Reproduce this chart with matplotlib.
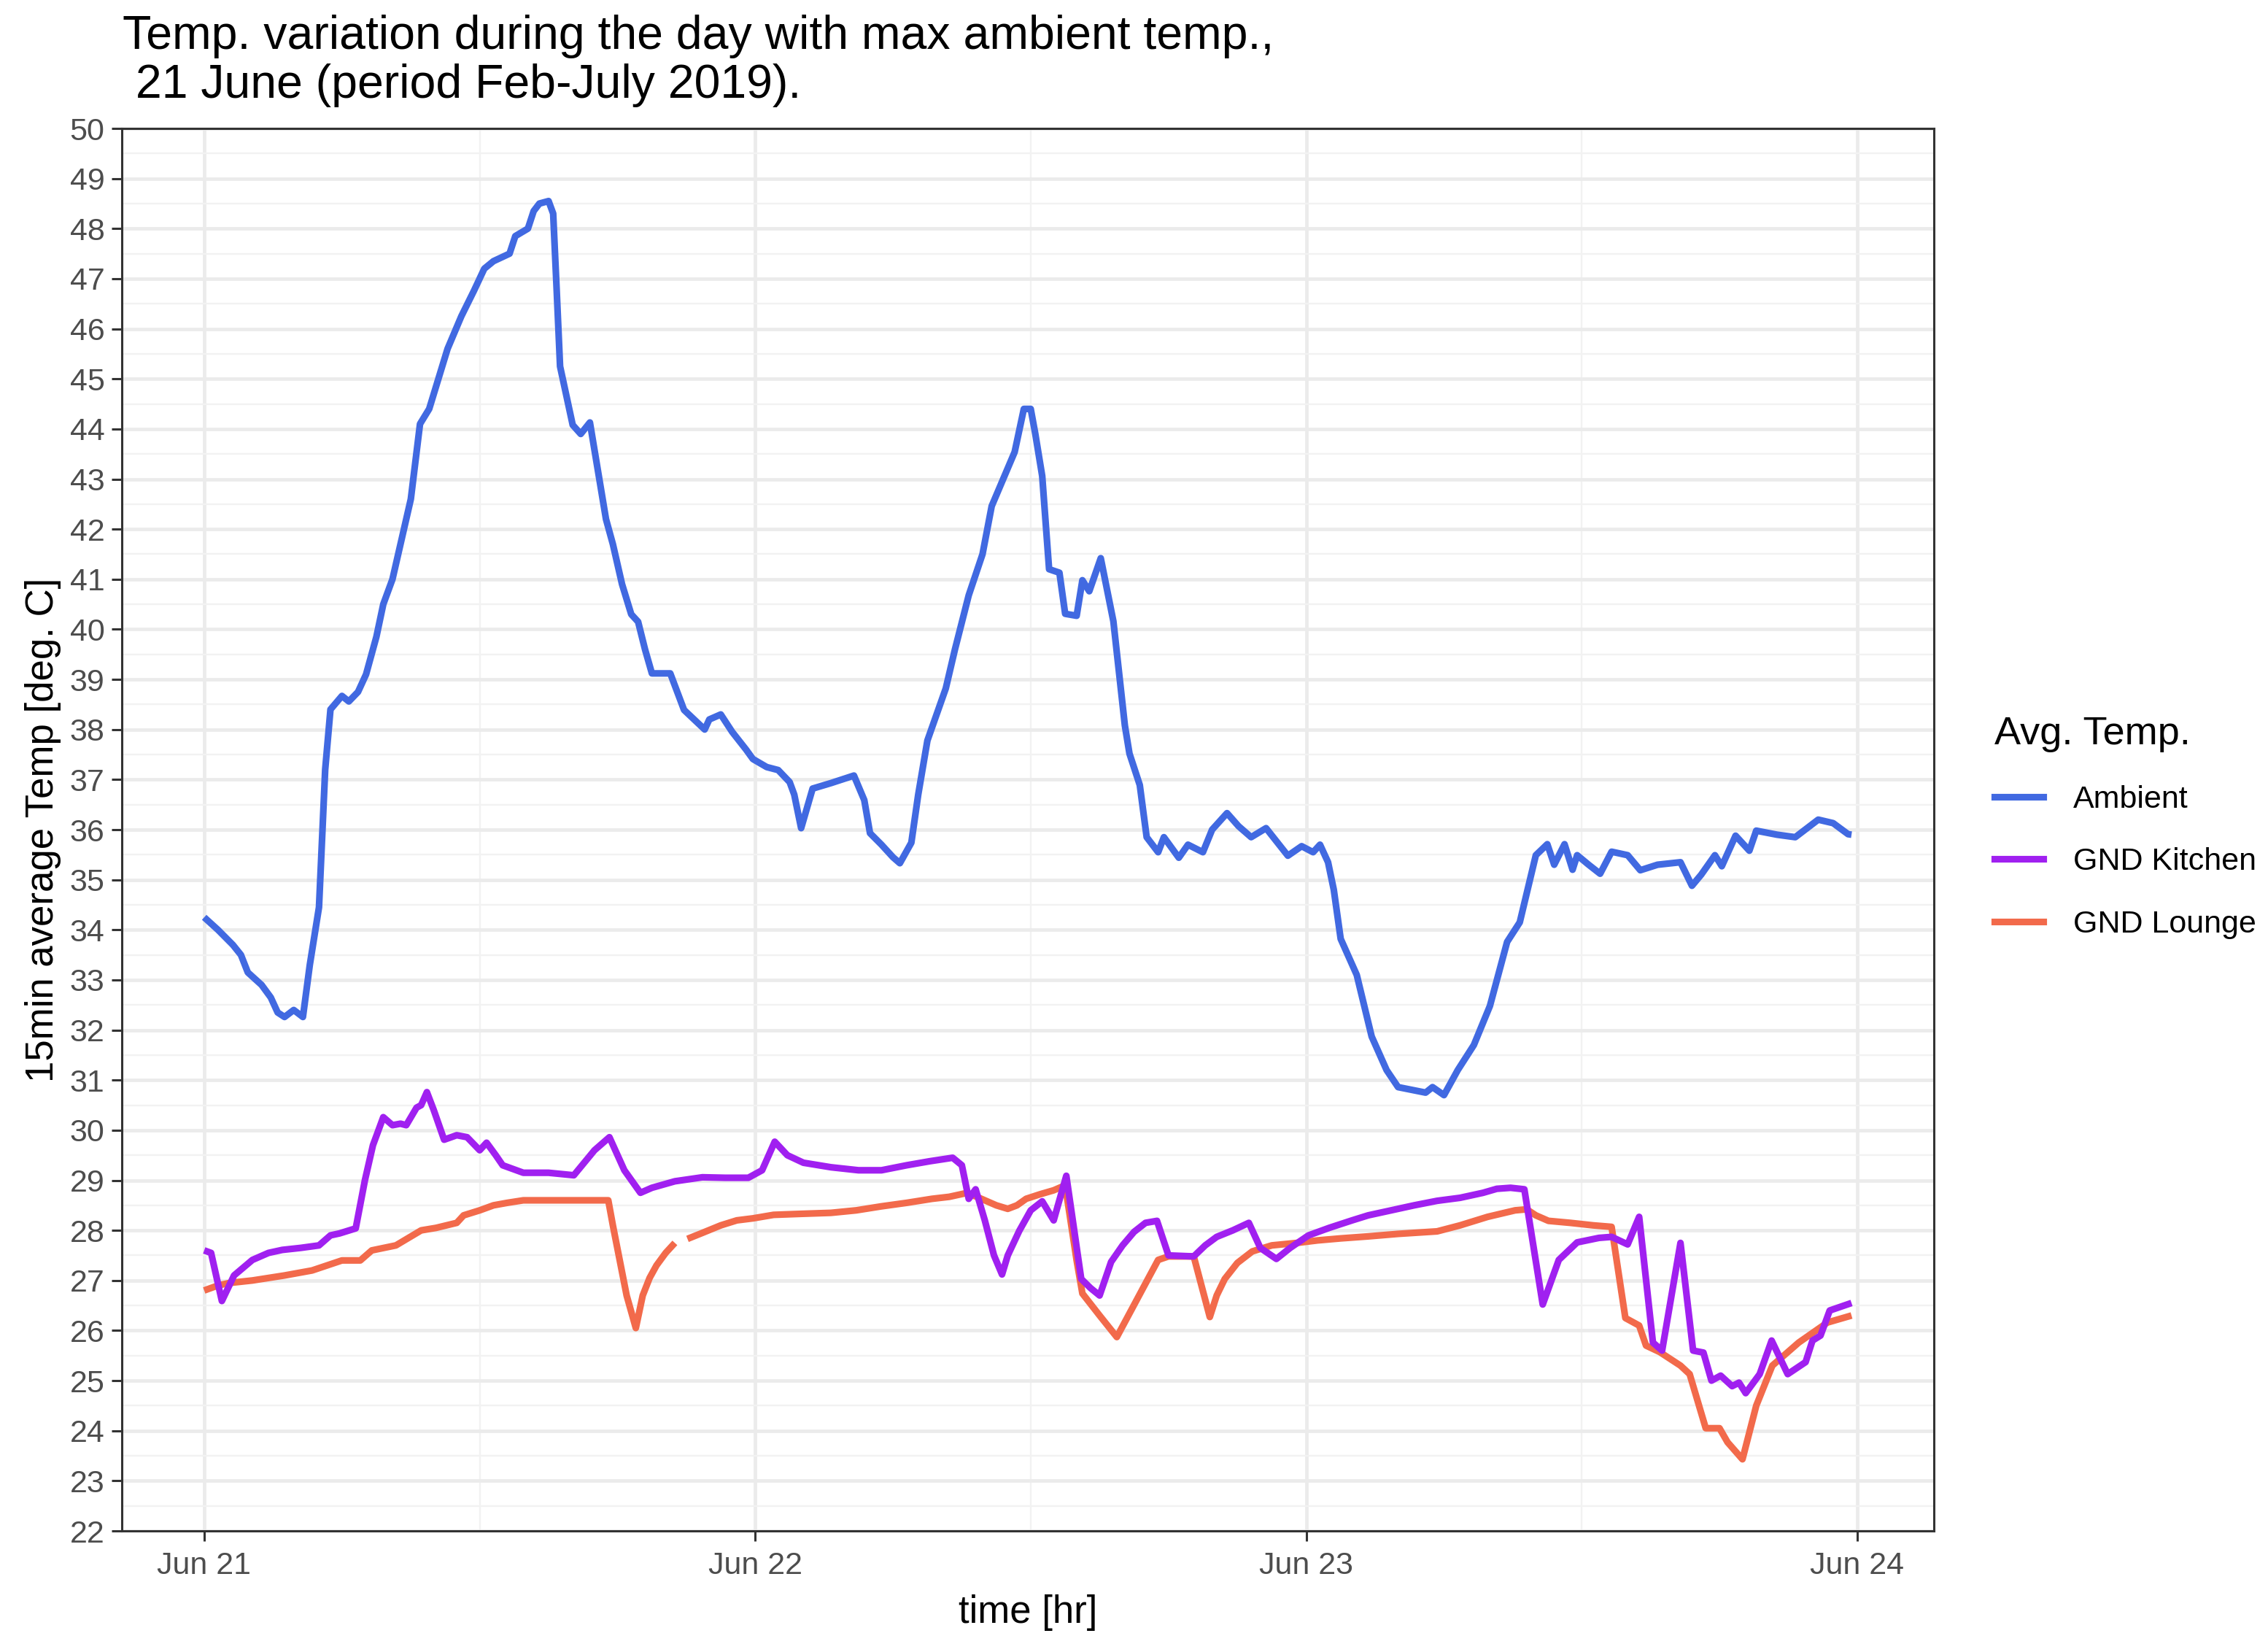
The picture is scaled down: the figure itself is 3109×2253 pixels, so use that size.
import numpy as np
import matplotlib
matplotlib.use("Agg")
import matplotlib.pyplot as plt
import matplotlib.dates as mdates
from matplotlib.ticker import MultipleLocator
from matplotlib.lines import Line2D

plt.rcParams['font.family'] = ['Liberation Sans', 'DejaVu Sans']

# ---------------- data (hours since 2019-06-21 00:00, deg C) ----------------
ambient_h = [0.0, 0.6, 1.25, 1.6, 1.9, 2.5, 2.9, 3.2, 3.5, 3.9, 4.3, 4.6, 5.0, 5.27, 5.5,
             6.0, 6.3, 6.7, 7.05, 7.5, 7.8, 8.2, 8.5, 9.0, 9.4, 9.8, 10.2, 10.6, 11.2,
             11.75, 12.2, 12.6, 13.3, 13.55, 14.1, 14.35, 14.6, 15.0, 15.2, 15.35, 15.5,
             16.05, 16.4, 16.8, 17.1, 17.5, 17.8, 18.2, 18.6, 18.9, 19.2, 19.5, 20.3,
             20.9, 21.8, 22.0, 22.5, 23.0, 23.6, 23.9, 24.5, 25.0, 25.5, 25.7, 26.0,
             26.5, 27.3, 28.3, 28.75, 29.0, 29.5, 30.0, 30.3, 30.8, 31.1, 31.5, 31.9,
             32.3, 32.7, 33.3, 33.9, 34.3, 34.8, 35.1, 35.3, 35.7, 36.0, 36.2, 36.5,
             36.8, 37.25, 37.5, 38.0, 38.25, 38.55, 39.05, 39.6, 40.1, 40.3, 40.75,
             41.05, 41.55, 41.8, 42.45, 42.85, 43.5, 43.9, 44.55, 45.05, 45.6, 46.25,
             47.2, 47.8, 48.3, 48.6, 48.95, 49.2, 49.5, 50.2, 50.85, 51.5, 52.0, 53.2,
             53.5, 54.0, 54.6, 55.3, 56.0, 56.75, 57.3, 58.0, 58.5, 58.8, 59.25, 59.6,
             59.8, 60.3, 60.8, 61.3, 62.0, 62.55, 63.3, 64.3, 64.8, 65.2, 65.8, 66.1,
             66.7, 67.3, 67.6, 68.5, 69.3, 70.3, 70.95, 71.6, 71.75]
ambient_t = [34.25, 34.0, 33.7, 33.5, 33.15, 32.9, 32.65, 32.35, 32.26, 32.4, 32.26, 33.3,
             34.45, 37.2, 38.4, 38.67, 38.56, 38.75, 39.1, 39.85, 40.5, 41.0, 41.6, 42.6,
             44.1, 44.4, 45.0, 45.6, 46.25, 46.76, 47.2, 47.35, 47.5, 47.85, 48.0, 48.35,
             48.5, 48.55, 48.3, 46.8, 45.25, 44.08, 43.9, 44.13, 43.3, 42.2, 41.7, 40.9,
             40.3, 40.15, 39.6, 39.12, 39.12, 38.39, 38.0, 38.2, 38.3, 37.95, 37.6, 37.41,
             37.25, 37.19, 36.95, 36.7, 36.03, 36.82, 36.93, 37.08, 36.59, 35.93, 35.7,
             35.45, 35.33, 35.74, 36.7, 37.78, 38.3, 38.82, 39.6, 40.68, 41.5, 42.46, 43.0,
             43.32, 43.54, 44.4, 44.4, 43.9, 43.06, 41.2, 41.13, 40.31, 40.27, 40.98, 40.76,
             41.42, 40.16, 38.08, 37.52, 36.89, 35.85, 35.55, 35.85, 35.44, 35.7, 35.55,
             36.0, 36.33, 36.07, 35.85, 36.03, 35.48, 35.67, 35.55, 35.7, 35.35, 34.8,
             33.82, 33.1, 31.87, 31.2, 30.86, 30.75, 30.86, 30.7, 31.2, 31.7, 32.48, 33.76,
             34.15, 35.49, 35.71, 35.3, 35.71, 35.2, 35.49, 35.3, 35.12, 35.56, 35.49,
             35.19, 35.3, 35.35, 34.88, 35.1, 35.49, 35.27, 35.88, 35.58, 35.98, 35.9,
             35.85, 36.2, 36.13, 35.91, 35.9]

kitchen_h = [0.0, 0.3, 0.77, 1.3, 2.1, 2.8, 3.4, 4.2, 5.0, 5.5, 5.9, 6.6, 7.0, 7.35, 7.8,
             8.2, 8.55, 8.8, 9.25, 9.45, 9.7, 10.0, 10.45, 11.0, 11.45, 12.0, 12.3, 12.7,
             13.0, 13.9, 15.0, 16.1, 17.0, 17.65, 18.3, 19.0, 19.5, 20.5, 21.7, 22.7, 23.7,
             24.3, 24.85, 25.4, 26.1, 27.3, 28.5, 29.5, 30.6, 31.6, 32.6, 33.0, 33.3, 33.6,
             34.0, 34.4, 34.75, 35.0, 35.5, 36.0, 36.5, 37.0, 37.55, 38.2, 38.6, 39.0,
             39.5, 40.0, 40.5, 41.0, 41.5, 42.0, 43.1, 43.6, 44.1, 44.8, 45.5, 46.0, 46.7,
             47.3, 48.1, 49.0, 50.0, 50.7, 51.7, 52.7, 53.7, 54.7, 55.7, 56.3, 56.9, 57.5,
             58.3, 59.0, 59.8, 60.75, 61.3, 62.0, 62.5, 63.1, 63.5, 64.3, 64.85, 65.3,
             65.65, 66.05, 66.55, 66.85, 67.14, 67.75, 68.27, 68.97, 69.75, 70.05, 70.4,
             70.8, 71.75]
kitchen_t = [27.6, 27.55, 26.59, 27.1, 27.41, 27.55, 27.61, 27.65, 27.7, 27.9, 27.94, 28.04,
             29.0, 29.7, 30.26, 30.1, 30.13, 30.1, 30.45, 30.5, 30.76, 30.4, 29.81, 29.9,
             29.86, 29.6, 29.75, 29.5, 29.3, 29.15, 29.15, 29.1, 29.6, 29.86, 29.2, 28.75,
             28.85, 28.98, 29.06, 29.05, 29.05, 29.2, 29.77, 29.5, 29.35, 29.26, 29.2, 29.2,
             29.3, 29.38, 29.45, 29.3, 28.63, 28.82, 28.2, 27.5, 27.12, 27.5, 27.99, 28.4,
             28.58, 28.2, 29.09, 27.03, 26.85, 26.7, 27.37, 27.7, 27.97, 28.15, 28.19, 27.5,
             27.48, 27.7, 27.87, 28.0, 28.15, 27.65, 27.43, 27.65, 27.9, 28.05, 28.2, 28.3,
             28.4, 28.5, 28.59, 28.65, 28.75, 28.83, 28.85, 28.82, 26.52, 27.41, 27.76,
             27.85, 27.87, 27.72, 28.27, 25.76, 25.6, 27.75, 25.6, 25.56, 25.0, 25.1, 24.89,
             24.96, 24.75, 25.13, 25.8, 25.13, 25.37, 25.8, 25.9, 26.4, 26.55]

lounge_h = [0.0, 0.6, 1.1, 2.1, 3.5, 4.7, 5.35, 6.0, 6.8, 7.3, 8.35, 9.45, 10.1, 11.0, 11.3,
            12.0, 12.6, 13.2, 13.9, 15.0, 16.4, 17.6, 17.8, 18.1, 18.4, 18.8, 19.1, 19.4,
            19.7, 20.1, 20.5, 20.75, 21.05, 21.7, 22.5, 23.2, 23.9, 24.8, 26.0, 27.3, 28.4,
            29.5, 30.6, 31.7, 32.45, 33.15, 33.6, 34.0, 34.5, 35.0, 35.4, 35.8, 36.4, 37.0,
            37.5, 38.0, 38.25, 39.0, 39.75, 41.55, 42.0, 43.1, 43.8, 44.1, 44.45, 45.0,
            45.65, 46.5, 47.6, 48.5, 49.5, 50.7, 52.0, 53.7, 54.7, 55.9, 57.1, 57.6, 58.0,
            58.55, 59.5, 60.5, 61.3, 61.9, 62.5, 62.8, 63.4, 64.3, 64.7, 65.4, 66.0, 66.35,
            67.0, 67.6, 68.3, 69.45, 70.7, 71.75]
lounge_t = [26.8, 26.9, 26.95, 27.0, 27.1, 27.2, 27.3, 27.4, 27.4, 27.6, 27.7, 28.0, 28.05,
            28.15, 28.3, 28.4, 28.5, 28.55, 28.6, 28.6, 28.6, 28.6, 28.1, 27.4, 26.7, 26.05,
            26.7, 27.05, 27.3, 27.55, 27.75, np.nan, 27.83, 27.95, 28.1, 28.2, 28.24, 28.31,
            28.33, 28.35, 28.4, 28.48, 28.55, 28.63, 28.67, 28.74, 28.68, 28.6, 28.5, 28.43,
            28.5, 28.63, 28.72, 28.8, 28.9, 27.4, 26.74, 26.3, 25.87, 27.41, 27.48, 27.48,
            26.27, 26.7, 27.03, 27.35, 27.58, 27.7, 27.75, 27.8, 27.84, 27.88, 27.93, 27.98,
            28.1, 28.27, 28.4, 28.42, 28.3, 28.19, 28.15, 28.1, 28.07, 26.25, 26.1, 25.7,
            25.57, 25.3, 25.13, 24.05, 24.05, 23.77, 23.43, 24.5, 25.3, 25.76, 26.16, 26.3]

series_names = ["Ambient", "GND Kitchen", "GND Lounge"]
series_colors = ["#4169E1", "#A020F0", "#F26A4B"]

start = np.datetime64("2019-06-21T00:00:00")


def to_time(hours):
    secs = np.round(np.asarray(hours, dtype=float) * 3600).astype("int64")
    return start + secs.astype("timedelta64[s]")


# ---------------- figure ----------------
W, H, DPI = 3109, 2253, 200
fig = plt.figure(figsize=(W / DPI, H / DPI), dpi=DPI)
ax = fig.add_axes([167 / W, 1 - 2098 / H, (2651 - 167) / W, (2098 - 176) / H])

lw = 3.3
data = [(ambient_h, ambient_t), (kitchen_h, kitchen_t), (lounge_h, lounge_t)]
zorders = [3, 5, 4]
for (hh, tt), name, col, z in zip(data, series_names, series_colors, zorders):
    ax.plot(to_time(hh), np.asarray(tt, dtype=float), color=col, lw=lw,
            solid_joinstyle="round", solid_capstyle="butt", zorder=z, label=name)

span_h = 71.75
pad_h = 0.05 * span_h
ax.set_xlim(to_time([-pad_h])[0], to_time([span_h + pad_h])[0])
ax.set_ylim(22, 50)

ax.xaxis.set_major_locator(mdates.DayLocator())
ax.xaxis.set_major_formatter(mdates.DateFormatter("%b %d"))
ax.xaxis.set_minor_locator(mdates.HourLocator(byhour=[12]))
ax.yaxis.set_major_locator(MultipleLocator(1))
ax.yaxis.set_minor_locator(MultipleLocator(0.5))

ax.grid(which="major", color="#EBEBEB", lw=1.7, zorder=0)
ax.grid(which="minor", color="#F2F2F2", lw=0.85, zorder=0)
ax.set_axisbelow(True)

for sp in ax.spines.values():
    sp.set_color("#333333")
    sp.set_linewidth(1.1)

ax.tick_params(which="major", length=5, width=1.1, color="#333333",
               labelcolor="#4D4D4D", labelsize=15.5)
ax.tick_params(axis="y", which="major", pad=3.5)
ax.tick_params(axis="x", which="major", pad=5)
ax.tick_params(which="minor", length=0)

ax.set_xlabel("time [hr]", fontsize=19, color="black", labelpad=7)
ax.set_ylabel("15min average Temp [deg. C]", fontsize=19, color="black", labelpad=4)

fig.text(168 / W, 1 - 20 / H,
         "Temp. variation during the day with max ambient temp.,\n 21 June (period Feb-July 2019).",
         fontsize=23.2, ha="left", va="top", linespacing=1.15)

handles = [Line2D([], [], color=c, lw=lw) for c in series_colors]
leg = fig.legend(handles, series_names, title="Avg. Temp.", loc="upper left",
                 bbox_to_anchor=(2734 / W, 1 - 981 / H), frameon=False,
                 fontsize=15.5, title_fontsize=19.5, handlelength=1.55,
                 handletextpad=0.95, labelspacing=1.05, borderpad=0,
                 borderaxespad=0, alignment="left")

fig.savefig("out.png", dpi=DPI, facecolor="white")
